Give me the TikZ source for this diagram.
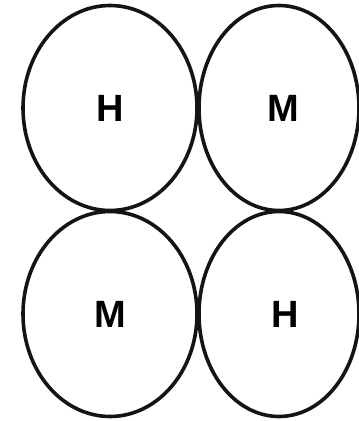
\documentclass[tikz,border=0pt]{standalone}
\usepackage{fontspec}
\setmainfont{Liberation Sans}
\usetikzlibrary{shapes.geometric}
\begin{document}
\begin{tikzpicture}[x=1pt,y=1pt,
  cell/.style={ellipse,draw=black!92,line width=3.6pt,inner sep=0pt,
    minimum width=170pt,minimum height=205pt,
    font=\fontsize{38}{38}\selectfont\bfseries}]
\useasboundingbox (0,0) rectangle (359,421);
\begin{scope}
\clip (0,0) rectangle (359,421);
\node[cell,minimum width=174pt] (tl) at (110,313) {H};
\node[cell,minimum width=160pt] (tr) at (279,313) {\hspace*{8pt}M};
\node[cell,minimum width=174pt] (bl) at (110,107) {M};
\node[cell,minimum width=160pt] (br) at (279,107) {\hspace*{12pt}H};
\end{scope}
\end{tikzpicture}
\end{document}
